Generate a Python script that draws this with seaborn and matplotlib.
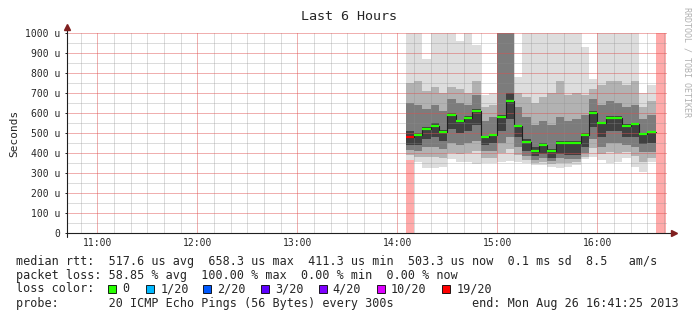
import matplotlib
matplotlib.use("Agg")
import matplotlib.pyplot as plt
from matplotlib.patches import Rectangle
import numpy as np
import pandas as pd
import seaborn as sns

# ---------------- data ----------------
first_step = "2013-08-26 14:05:00"      # start of first 5-minute step with data
graph_end = "2013-08-26 16:41:25"
step_minutes = 5

median_us = [480, 488, 520, 537, 507, 592, 558, 573, 612, 478,
             490, 580, 658, 533, 455, 412, 440, 412, 452, 452,
             452, 490, 602, 548, 577, 577, 537, 543, 495, 503]
loss_of_20 = [19, 0, 0, 0, 0, 0, 0, 0, 0, 0,
              0, 0, 0, 0, 0, 0, 0, 0, 0, 0,
              0, 0, 0, 0, 0, 0, 0, 0, 0, 0]

# smoke envelope per step (microseconds)
max_us = [1000, 1000, 870, 1000, 1000, 1000, 960, 1000, 940, 690,
          700, 1000, 1000, 780, 1000, 1000, 1000, 1000, 1000, 1000,
          1000, 930, 770, 1000, 1000, 1000, 1000, 1000, 700, 740]
upper_mid_us = [750, 760, 710, 730, 700, 730, 720, 700, 760, 630,
                640, 1000, 1000, 700, 680, 650, 680, 700, 760, 690,
                700, 690, 720, 740, 760, 760, 740, 760, 630, 660]
upper_dark_us = [650, 640, 620, 640, 610, 670, 650, 640, 690, 560,
                 580, 1000, 1000, 630, 580, 540, 560, 540, 580, 560,
                 570, 590, 670, 640, 660, 650, 630, 640, 570, 590]
upper_core_us = [510, 500, 530, 550, 515, 600, 565, 585, 620, 485,
                 495, 590, 700, 540, 470, 430, 450, 420, 460, 460,
                 460, 500, 610, 555, 585, 585, 545, 550, 500, 510]
lower_core_us = [440, 440, 470, 480, 460, 520, 500, 510, 540, 440,
                 450, 510, 570, 480, 410, 385, 395, 375, 395, 390,
                 390, 430, 530, 480, 510, 510, 480, 480, 445, 450]
lower_dark_us = [415, 410, 430, 430, 420, 450, 440, 450, 460, 410,
                 410, 450, 480, 430, 385, 365, 375, 360, 375, 370,
                 370, 400, 470, 430, 450, 450, 440, 430, 405, 405]
lower_mid_us = [390, 380, 380, 380, 375, 400, 395, 400, 410, 375,
                375, 400, 420, 390, 365, 350, 355, 345, 350, 350,
                355, 380, 425, 395, 405, 400, 405, 385, 355, 375]
min_us = [365, 357, 323, 325, 332, 370, 357, 357, 345, 348,
          348, 357, 360, 357, 348, 340, 340, 332, 325, 332,
          340, 370, 380, 365, 348, 357, 375, 332, 307, 357]

unknown_steps = ["2013-08-26 14:05:00", "2013-08-26 16:35:00"]
unknown_end = ["2013-08-26 14:10:00", "2013-08-26 16:41:00"]

hour_ticks = [11, 12, 13, 14, 15, 16]
y_ticks_us = [0, 100, 200, 300, 400, 500, 600, 700, 800, 900, 1000]

loss_thresholds = [0, 1, 2, 3, 4, 10, 19]
loss_labels = ["0", "1/20", "2/20", "3/20", "4/20", "10/20", "19/20"]
loss_colors = ["#26ff00", "#00b8ff", "#0059ff", "#5e00ff", "#7e00ff", "#dd00ff", "#ff0000"]

legend_median = "median rtt:  517.6 us avg  658.3 us max  411.3 us min  503.3 us now  0.1 ms sd  8.5   am/s"
legend_loss = "packet loss: 58.85 % avg  100.00 % max  0.00 % min  0.00 % now"
legend_probe = "probe:       20 ICMP Echo Pings (56 Bytes) every 300s           end: Mon Aug 26 16:41:25 2013"

# ---------------- helpers ----------------
def to_h(ts):
    t = pd.Timestamp(ts)
    return t.hour + t.minute / 60 + t.second / 3600

def loss_color(n):
    c = loss_colors[0]
    for th, col in zip(loss_thresholds, loss_colors):
        if n >= th:
            c = col
    return c

sns.set_style("white")
plt.rcParams["font.family"] = ["DejaVu Sans Mono", "DejaVu Sans"]

W, H = 697, 321
fig = plt.figure(figsize=(W / 100, H / 100), dpi=100)
fig.patch.set_facecolor("white")
ax = fig.add_axes([66.5 / W, (H - 233) / H, 600 / W, 200 / H])
ax.set_facecolor("white")

steps = pd.date_range(first_step, periods=len(median_us), freq=f"{step_minutes}min")
step_h = np.array([to_h(t) for t in steps])
wid = step_minutes / 60

# unknown / total-loss bars
for s, e in zip(unknown_steps, unknown_end):
    ax.bar(to_h(s), 1000, width=to_h(e) - to_h(s), bottom=0, align="edge",
           color="#ffaaaa", linewidth=0, zorder=0.5)

# smoke layers
layers = [
    (min_us, max_us, "#dddddd"),
    (lower_mid_us, upper_mid_us, "#b2b2b2"),
    (lower_dark_us, upper_dark_us, "#7c7c7c"),
    (lower_core_us, upper_core_us, "#404040"),
]
for i, (lo, hi, col) in enumerate(layers):
    lo = np.array(lo); hi = np.array(hi)
    ax.bar(step_h, hi - lo, bottom=lo, width=wid, align="edge", color=col,
           linewidth=0, zorder=1 + i * 0.1)

# median: thin dark step line + coloured segments
df = pd.DataFrame({"h": list(step_h) + [step_h[-1] + wid],
                   "median": median_us + [median_us[-1]]})
sns.lineplot(data=df, x="h", y="median", drawstyle="steps-post", color="#202020",
             lw=0.8, ax=ax, zorder=3, estimator=None)
ax.hlines(median_us, step_h, step_h + wid, colors=[loss_color(n) for n in loss_of_20],
          lw=1.6, zorder=4)
ax.set_xlabel("")
ax.set_ylabel("")

# limits / ticks
end_h = to_h(graph_end)
x_lo, x_hi = end_h - 6, end_h
ax.set_xlim(x_lo, x_hi)
ax.set_ylim(0, 1000)
ax.set_xticks(hour_ticks)
ax.set_xticklabels([f"{h}:00" for h in hour_ticks])
ax.set_yticks(y_ticks_us)
ax.set_yticklabels([f"{v} u" if v else "0" for v in y_ticks_us])
ax.tick_params(axis="x", which="both", length=0, pad=3.5, labelsize=7)
ax.tick_params(axis="y", which="major", length=1.6, width=0.7, pad=2.6, labelsize=7,
               left=True, color="#202020")
ax.grid(False)
for sp in ax.spines.values():
    sp.set_visible(False)

# grid drawn on top of the smoke (rrdtool style), crisp 1px lines
minor_col = (0.56, 0.56, 0.56, 0.31)
major_col = (0.87, 0.31, 0.31, 0.45)
gkw = dict(lw=0.72, antialiased=False)
for v in np.arange(50, 1000, 100):
    ax.axhline(v, color=minor_col, zorder=2.5, **gkw)
for v in y_ticks_us[1:]:
    ax.axhline(v, color=major_col, zorder=2.6, **gkw)
for h0 in range(10, 17):
    for k in range(1, 6):
        xv = h0 + k / 6
        if x_lo < xv < x_hi:
            ax.axvline(xv, color=minor_col, zorder=2.5, **gkw)
for h in hour_ticks:
    ax.axvline(h, color=major_col, zorder=2.6, **gkw)

# axes lines with arrows
ax.plot([0, 1 + 5 / 600], [0, 0], transform=ax.transAxes, color="#1f1f1f", lw=0.8,
        clip_on=False, zorder=5)
ax.plot([0, 0], [-4 / 200, 1 + 4 / 200], transform=ax.transAxes, color="#1f1f1f", lw=0.8,
        clip_on=False, zorder=5)
ax.plot([1 + 7 / 600], [0], marker=">", ms=4, color="#801f1f", transform=ax.transAxes,
        clip_on=False, zorder=6)
ax.plot([0], [1 + 6 / 200], marker="^", ms=4, color="#801f1f", transform=ax.transAxes,
        clip_on=False, zorder=6)

# texts
mono = "DejaVu Sans Mono"
fig.text(349 / W, 1 - 16 / H, "Last 6 Hours", ha="center", va="center", fontsize=9.6,
         family=mono)
fig.text(14.5 / W, 1 - 133 / H, "Seconds", rotation=90, ha="center", va="center",
         fontsize=8, family=mono)
fig.text(687.5 / W, 1 - 62 / H, "RRDTOOL / TOBI OETIKER", rotation=270, ha="center",
         va="center", fontsize=6, family=mono, color="#b0b0b0")

LFS = 8.45
x0 = 16
cw = 7.07
fig.text(x0 / W, 1 - 261 / H, legend_median, ha="left", va="center", fontsize=LFS, family=mono)
fig.text(x0 / W, 1 - 275 / H, legend_loss, ha="left", va="center", fontsize=LFS, family=mono)
fig.text(x0 / W, 1 - 303 / H, legend_probe, ha="left", va="center", fontsize=LFS, family=mono)
fig.text(x0 / W, 1 - 289 / H, "loss color:", ha="left", va="center", fontsize=LFS, family=mono)

box_cols = [13.0, 18.4, 26.5, 34.7, 42.8, 51.0, 60.3]
for c, lab, col in zip(box_cols, loss_labels, loss_colors):
    bx = x0 + c * cw
    fig.add_artist(Rectangle((bx / W, (H - 293) / H), 8 / W, 8 / H,
                             transform=fig.transFigure, facecolor=col,
                             edgecolor="black", lw=0.6))
    fig.text((bx + 2 * cw) / W, 1 - 289 / H, lab, ha="left", va="center",
             fontsize=LFS, family=mono)

fig.savefig("out.png", dpi=100, facecolor="white")
